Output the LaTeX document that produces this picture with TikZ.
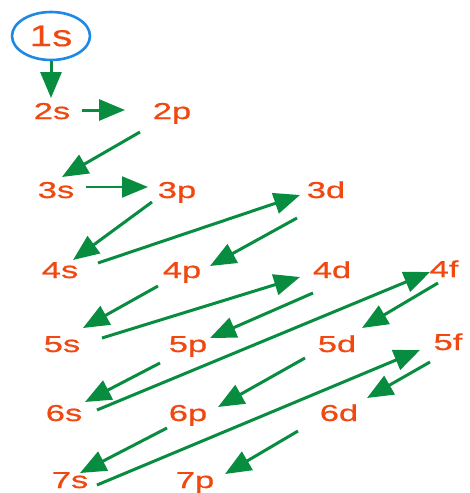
\documentclass[tikz,border=0pt]{standalone}
\usepackage{fontspec}
\usetikzlibrary{arrows.meta,shapes.geometric,calc}
\newfontfamily\lblfont{Liberation Sans}[FakeStretch=1.5,FakeBold=0.8]
\newfontfamily\ringfont{Liberation Sans}[FakeStretch=1.35,FakeBold=0.3]
\definecolor{lblorange}{RGB}{240,72,16}
\definecolor{arrgreen}{RGB}{8,140,64}
\definecolor{ringblue}{RGB}{30,136,229}
\begin{document}
\begin{tikzpicture}[x=1pt,y=-1pt,
  lbl/.style={anchor=base,inner sep=0pt,text=lblorange,font=\lblfont\fontsize{23}{25}\selectfont},
  conn/.style={draw=arrgreen,line width=3pt,-{Triangle[length=26pt,width=21pt]}},
  ring/.style={ellipse,draw=ringblue,line width=2.6pt,minimum width=78pt,minimum height=48pt,inner sep=0pt,text=lblorange,font=\ringfont\fontsize{30}{32}\selectfont}]
\useasboundingbox (0,0) rectangle (469,493);
\fill[white] (0,0) rectangle (469,493);
% nodes
\node[ring] (n1s) at (51,36) {1s};
\node[lbl] (n2s) at (52,119) {2s};
\node[lbl] (n2p) at (172,119) {2p};
\node[lbl] (n3s) at (56,198) {3s};
\node[lbl] (n3p) at (177,198) {3p};
\node[lbl] (n3d) at (326,198) {3d};
\node[lbl] (n4s) at (60,278) {4s};
\node[lbl] (n4p) at (182,278) {4p};
\node[lbl] (n4d) at (332,278) {4d};
\node[lbl] (n4f) at (444,277) {4f};
\node[lbl] (n5s) at (62,352) {5s};
\node[lbl] (n5p) at (188,352) {5p};
\node[lbl] (n5d) at (337,352) {5d};
\node[lbl] (n5f) at (448,350) {5f};
\node[lbl] (n6s) at (64,421) {6s};
\node[lbl] (n6p) at (188,421) {6p};
\node[lbl] (n6d) at (339,421) {6d};
\node[lbl] (n7s) at (70,488) {7s};
\node[lbl] (n7p) at (195,488) {7p};
% connectors
\draw[conn] (n1s.south) -- ($(n2s.base)+(-1,-21)$);
\draw[conn] ($(n2s.base)+(30,-9)$) -- ($(n2p.base)+(-47,-9)$);
\draw[conn] ($(n2p.base)+(-32,13)$) -- ($(n3s.base)+(6,-21)$);
\draw[conn,line width=2pt] ($(n3s.base)+(30,-11)$) -- ($(n3p.base)+(-29,-11)$);
\draw[conn] ($(n3p.base)+(-25,4)$) -- ($(n4s.base)+(13,-18)$);
\draw[conn] ($(n4s.base)+(38,-15)$) -- ($(n3d.base)+(-26,-3)$);
\draw[conn] ($(n3d.base)+(-29,20)$) -- ($(n4p.base)+(28,-12)$);
\draw[conn] ($(n4p.base)+(-24,8)$) -- ($(n5s.base)+(21,-24)$);
\draw[conn] ($(n5s.base)+(40,-14)$) -- ($(n4d.base)+(-32,-1)$);
\draw[conn] ($(n4d.base)+(-19,15)$) -- ($(n5p.base)+(22,-14)$);
\draw[conn] ($(n5p.base)+(-28,11)$) -- ($(n6s.base)+(21,-19)$);
\draw[conn] ($(n6s.base)+(33,-11)$) -- ($(n4f.base)+(-14,-5)$);
\draw[conn] ($(n4f.base)+(-6,6)$) -- ($(n5d.base)+(25,-24)$);
\draw[conn] ($(n5d.base)+(-32,6)$) -- ($(n6p.base)+(30,-14)$);
\draw[conn] ($(n6p.base)+(-21,7)$) -- ($(n7s.base)+(10,-15)$);
\draw[conn] ($(n7s.base)+(27,-3)$) -- ($(n5f.base)+(-28,0)$);
\draw[conn] ($(n5f.base)+(-18,12)$) -- ($(n6d.base)+(28,-23)$);
\draw[conn] ($(n6d.base)+(-41,10)$) -- ($(n7p.base)+(30,-14)$);
\end{tikzpicture}
\end{document}
